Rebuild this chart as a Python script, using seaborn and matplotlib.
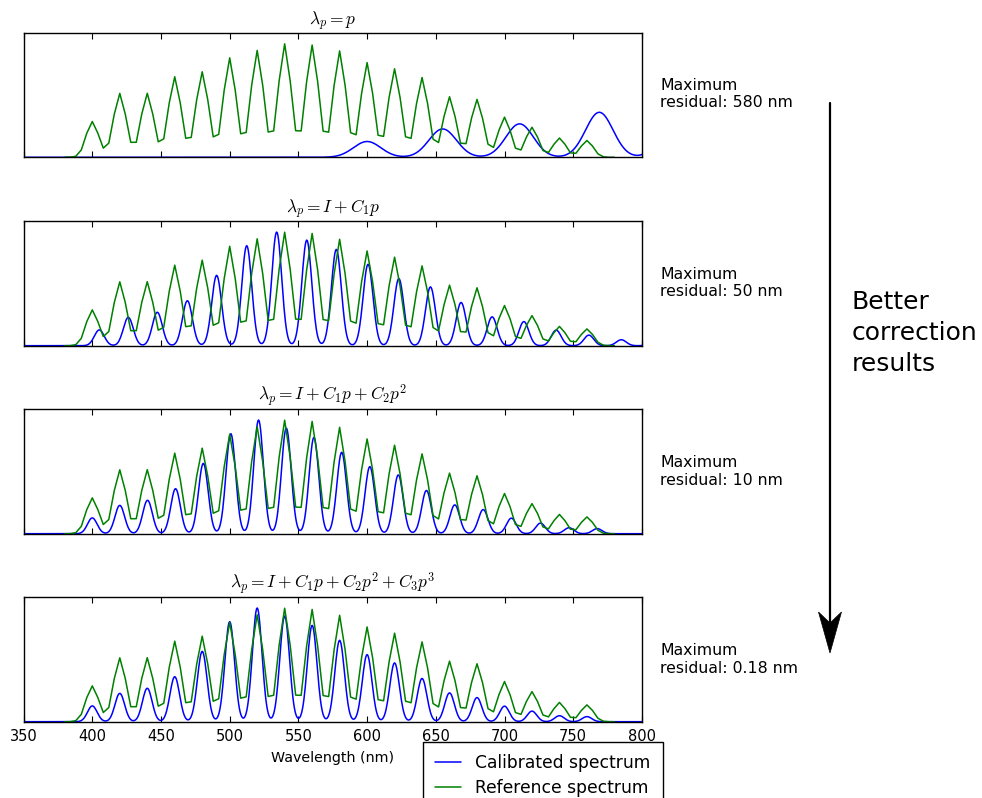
import numpy as np
import pandas as pd
import matplotlib
matplotlib.use("Agg")
import matplotlib.pyplot as plt
import seaborn as sns
from matplotlib.patches import Polygon
from matplotlib.lines import Line2D

# ---------------- data ----------------
wavelength_ticks = [350, 400, 450, 500, 550, 600, 650, 700, 750, 800]

# reference spectrum: peak centres (nm) and heights (fraction of panel height)
reference_peak_nm = [400, 420, 440, 460, 480, 500, 520, 540, 560, 580,
                     600, 620, 640, 660, 680, 700, 720, 740, 760]
reference_peak_height = [0.288, 0.514, 0.515, 0.648, 0.688, 0.800, 0.860, 0.913,
                         0.903, 0.856, 0.762, 0.712, 0.642, 0.487, 0.466, 0.323,
                         0.242, 0.155, 0.135]

# calibrated spectrum: peak heights (same measured data in every panel)
calibrated_peak_height = [0.127, 0.228, 0.269, 0.362, 0.566, 0.805, 0.915, 0.850,
                          0.775, 0.655, 0.540, 0.473, 0.348, 0.232, 0.194, 0.125,
                          0.085, 0.048, 0.041]

# calibrated peak positions (nm) in each panel
calibrated_peak_nm_p1 = [600, 655, 711, 769, 826]
calibrated_peak_nm_p2 = [405.1, 426.2, 447.3, 469.2, 490.5, 512.4, 534.2, 556.1,
                         577.6, 600.7, 623.1, 646.1, 668.4, 691.0, 714.1, 737.6,
                         761.4, 785.0, 809.0]
calibrated_peak_nm_p3 = [400.0, 420.0, 440.2, 460.6, 480.8, 500.8, 521.0, 541.2,
                         561.3, 581.5, 602.0, 622.7, 643.2, 663.8, 684.5, 705.0,
                         726.2, 747.0, 767.5]
calibrated_peak_nm_p4 = [400, 420, 440, 460, 480, 500, 520, 540, 560, 580,
                         600, 620, 640, 660, 680, 700, 720, 740, 760]

panel_titles = [r"$\lambda_p = p$",
                r"$\lambda_p = I + C_1p$",
                r"$\lambda_p = I + C_1p + C_2p^2$",
                r"$\lambda_p = I + C_1p + C_2p^2 + C_3p^3$"]
residual_labels = ["Maximum\nresidual: 580 nm",
                   "Maximum\nresidual: 50 nm",
                   "Maximum\nresidual: 10 nm",
                   "Maximum\nresidual: 0.18 nm"]
series_labels = ["Calibrated spectrum", "Reference spectrum"]

# ---------------- rendering helpers ----------------
def peak_profile(grid, centres, heights, width):
    grid = np.asarray(grid, dtype=float)[:, None]
    c = np.asarray(centres, dtype=float)[None, :]
    h = np.asarray(heights, dtype=float)[None, :]
    return (h * np.exp(-(grid - c) ** 2 / (2.0 * width ** 2))).sum(axis=1)

reference_grid = np.arange(380, 781, 4.0)       # coarse sampling of the reference
calibrated_grid = np.arange(350, 800.01, 0.5)   # fine sampling of calibrated data

reference_df = pd.DataFrame({
    "nm": reference_grid,
    "I": peak_profile(reference_grid, reference_peak_nm, reference_peak_height, 4.5),
})

panel_specs = [
    (calibrated_peak_nm_p1, 10.0),
    (calibrated_peak_nm_p2, 3.6),
    (calibrated_peak_nm_p3, 3.5),
    (calibrated_peak_nm_p4, 3.5),
]

# ---------------- style ----------------
sns.set_style("ticks")
plt.rcParams.update({
    "font.family": ["DejaVu Sans"],
    "mathtext.fontset": "cm",
    "text.color": "black",
    "axes.labelcolor": "black",
    "axes.edgecolor": "black",
    "axes.linewidth": 1.0,
    "xtick.direction": "in",
    "xtick.color": "black",
    "xtick.labelcolor": "black",
    "xtick.major.size": 4,
    "xtick.top": True,
    "xtick.bottom": True,
})

fig = plt.figure(figsize=(9.82, 7.98), dpi=100)
W, H = 982.0, 798.0
ax_left = 23.6 / W
ax_width = (641.9 - 23.6) / W
ax_h = 124.3 / H
bottoms_px = [157.3, 345.7, 533.7, 721.7]
LW = 1.1

axes = []
for i, ((centres, width), title) in enumerate(zip(panel_specs, panel_titles)):
    ax = fig.add_axes([ax_left, 1 - bottoms_px[i] / H, ax_width, ax_h])
    axes.append(ax)
    cal_df = pd.DataFrame({
        "nm": calibrated_grid,
        "I": peak_profile(calibrated_grid, centres,
                          calibrated_peak_height[:len(centres)], width),
    })
    sns.lineplot(data=cal_df, x="nm", y="I", ax=ax, color="#0000ff",
                 linewidth=LW, estimator=None, sort=False,
                 label=series_labels[0], legend=False)
    sns.lineplot(data=reference_df, x="nm", y="I", ax=ax, color="#008000",
                 linewidth=LW, estimator=None, sort=False,
                 label=series_labels[1], legend=False)
    ax.set_xlim(350, 800)
    ax.set_ylim(0, 1)
    ax.set_xticks(wavelength_ticks)
    ax.set_yticks([])
    ax.set_ylabel("")
    ax.set_title(title, fontsize=12.5, pad=6, color="black")
    for s in ax.spines.values():
        s.set_visible(True)
        s.set_color("black")
    if i < 3:
        ax.set_xlabel("")
        ax.tick_params(axis="x", labelbottom=False)
    else:
        ax.tick_params(axis="x", labelsize=10.5, pad=5)
        ax.set_xlabel("Wavelength (nm)", fontsize=10.3)
        ax.xaxis.set_label_coords(0.5, -0.235)

    # residual annotation to the right of each panel
    centre_px = [94, 283, 471.5, 659.5][i]
    fig.text(660 / W, 1 - centre_px / H, residual_labels[i], fontsize=11.3,
             ha="left", va="center", linespacing=1.2, color="black")

# legend (partly cut off at the bottom edge, as in the original)
handles = [Line2D([], [], color="#0000ff", lw=LW),
           Line2D([], [], color="#008000", lw=LW)]
leg = fig.legend(handles, series_labels, loc="upper left",
                 bbox_to_anchor=(423 / W, 1 - 742 / H), fontsize=12.3,
                 frameon=True, fancybox=False, framealpha=1, edgecolor="black",
                 borderpad=0.7, handlelength=1.5, handletextpad=0.86,
                 labelspacing=0.4, borderaxespad=0)
leg.get_frame().set_linewidth(1.0)
for t in leg.get_texts():
    t.set_color("black")

# arrow on the right
x_arrow = 830 / W
fig.add_artist(Line2D([x_arrow, x_arrow], [1 - 103 / H, 1 - 625 / H],
                      transform=fig.transFigure, color="black", lw=1.6))
head = Polygon([[830 / W, 1 - 653 / H], [818.5 / W, 1 - 612 / H],
                [830 / W, 1 - 623 / H], [841.5 / W, 1 - 612 / H]],
               closed=True, transform=fig.transFigure, facecolor="black",
               edgecolor="black", lw=0.5)
fig.add_artist(head)
fig.text(852 / W, 1 - 333 / H, "Better\ncorrection\nresults", fontsize=18,
         ha="left", va="center", linespacing=1.35, color="black")

fig.savefig("out.png", dpi=100)
